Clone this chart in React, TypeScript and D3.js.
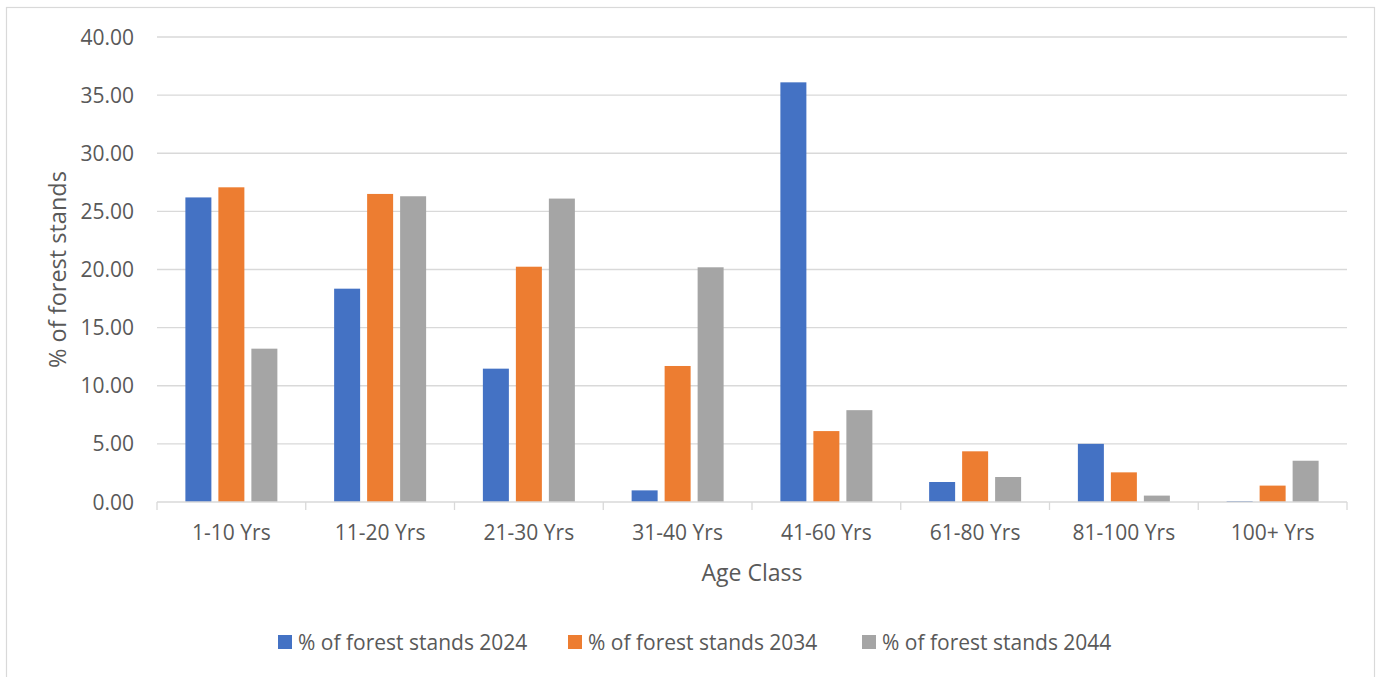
import React from "react";
import * as d3 from "d3";

// Share of forest stands per age class, for three projection years
const categories = [
  "1-10 Yrs",
  "11-20 Yrs",
  "21-30 Yrs",
  "31-40 Yrs",
  "41-60 Yrs",
  "61-80 Yrs",
  "81-100 Yrs",
  "100+ Yrs",
];
const seriesNames = [
  "% of forest stands 2024",
  "% of forest stands 2034",
  "% of forest stands 2044",
];
const values2024 = [26.2, 18.35, 11.47, 1.0, 36.1, 1.72, 5.0, 0.08];
const values2034 = [27.07, 26.5, 20.24, 11.7, 6.1, 4.36, 2.55, 1.41];
const values2044 = [13.19, 26.3, 26.1, 20.19, 7.9, 2.15, 0.55, 3.55];
const yTicks = [0, 5, 10, 15, 20, 25, 30, 35, 40];
const seriesColors = ["#4472C4", "#ED7D31", "#A5A5A5"];

const W = 1376;
const H = 677;
const plot = { left: 157, right: 1347, top: 37, bottom: 502 };
const FONT = "'Open Sans', 'Noto Sans', sans-serif";
const TEXT = "#595959";
const GRID = "#D9D9D9";

export default function App() {
  const seriesValues = [values2024, values2034, values2044];

  const x0 = d3
    .scaleBand<string>()
    .domain(categories)
    .range([plot.left, plot.right])
    .padding(0);
  const x1 = d3
    .scaleBand<string>()
    .domain(seriesNames)
    .range([0, x0.bandwidth()])
    .paddingInner(0.212)
    .paddingOuter(0.86);
  const y = d3.scaleLinear().domain([0, 40]).range([plot.bottom, plot.top]);

  const tickXs = categories.map((c) => x0(c) as number).concat([plot.right]);

  const legendItems = [
    { x: 278, name: seriesNames[0], color: seriesColors[0] },
    { x: 568, name: seriesNames[1], color: seriesColors[1] },
    { x: 862, name: seriesNames[2], color: seriesColors[2] },
  ];
  const legendY = 642;

  return (
    <div style={{ position: "absolute", left: 0, top: 0 }}>
      <svg width={W} height={H} style={{ display: "block", background: "#fff" }}>
        {/* chart frame */}
        <rect
          x={6.5}
          y={7.5}
          width={1368}
          height={H}
          fill="#fff"
          stroke={GRID}
          strokeWidth={1.2}
        />

        {/* horizontal gridlines */}
        {yTicks.map((t) =>
          t === 0 ? null : (
            <line
              key={"g" + t}
              x1={plot.left}
              x2={plot.right}
              y1={y(t)}
              y2={y(t)}
              stroke={GRID}
              strokeWidth={1.3}
            />
          )
        )}

        {/* bars */}
        {seriesNames.map((s, si) =>
          categories.map((c, ci) => {
            const v = seriesValues[si][ci];
            const bx = (x0(c) as number) + (x1(s) as number);
            return (
              <rect
                key={s + c}
                x={bx}
                y={y(v)}
                width={x1.bandwidth()}
                height={y(0) - y(v)}
                fill={seriesColors[si]}
              />
            );
          })
        )}

        {/* category axis */}
        <line
          x1={plot.left}
          x2={plot.right}
          y1={y(0)}
          y2={y(0)}
          stroke={GRID}
          strokeWidth={1.3}
        />
        {tickXs.map((tx, i) => (
          <line
            key={"t" + i}
            x1={tx}
            x2={tx}
            y1={y(0)}
            y2={y(0) + 8}
            stroke={GRID}
            strokeWidth={1.3}
          />
        ))}

        {/* y tick labels */}
        {yTicks.map((t) => (
          <text
            key={"yl" + t}
            x={134}
            y={y(t)}
            dy="0.36em"
            textAnchor="end"
            fontFamily={FONT}
            fontSize={21}
            fill={TEXT}
          >
            {d3.format(".2f")(t)}
          </text>
        ))}

        {/* category labels */}
        {categories.map((c) => (
          <text
            key={"xl" + c}
            x={(x0(c) as number) + x0.bandwidth() / 2}
            y={532}
            dy="0.36em"
            textAnchor="middle"
            fontFamily={FONT}
            fontSize={21}
            fill={TEXT}
          >
            {c}
          </text>
        ))}

        {/* axis titles */}
        <text
          x={(plot.left + plot.right) / 2}
          y={573}
          dy="0.36em"
          textAnchor="middle"
          fontFamily={FONT}
          fontSize={23}
          fill={TEXT}
        >
          Age Class
        </text>
        <text
          transform={`translate(58, ${(plot.top + plot.bottom) / 2}) rotate(-90)`}
          dy="0.36em"
          textAnchor="middle"
          fontFamily={FONT}
          fontSize={23.5}
          fill={TEXT}
        >
          % of forest stands
        </text>

        {/* legend */}
        {legendItems.map((it) => (
          <g key={it.name}>
            <rect x={it.x} y={legendY - 7} width={14} height={14} fill={it.color} />
            <text
              x={it.x + 20}
              y={legendY}
              dy="0.36em"
              fontFamily={FONT}
              fontSize={21}
              fill={TEXT}
            >
              {it.name}
            </text>
          </g>
        ))}
      </svg>
    </div>
  );
}
